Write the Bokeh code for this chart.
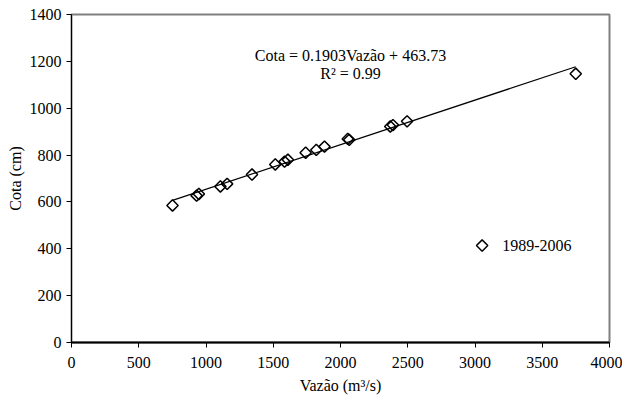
import numpy as np
from bokeh.plotting import figure
from bokeh.models import Label, FixedTicker, Range1d
from bokeh.embed import file_html
from bokeh.resources import INLINE

# data
vazao = [751, 930, 947, 1107, 1157, 1342, 1515, 1584, 1609, 1741, 1820, 1881,
         2054, 2065, 2370, 2390, 2495, 3749]
cota = [585, 627, 634, 666, 677, 717, 760, 772, 780, 810, 822, 836,
        869, 865, 922, 928, 944, 1147]
slope = 0.1903
intercept = 463.73
series_name = "1989-2006"
eq_line1 = "Cota = 0.1903Vazão + 463.73"
eq_line2 = "R² = 0.99"
x_ticks = [0, 500, 1000, 1500, 2000, 2500, 3000, 3500, 4000]
y_ticks = [0, 200, 400, 600, 800, 1000, 1200, 1400]

FONT = "Liberation Serif"
FS = "16px"

p = figure(width=622, height=397, output_backend="svg", toolbar_location=None,
           x_range=Range1d(0, 4000), y_range=Range1d(0, 1400),
           min_border_left=71, min_border_right=13, min_border_top=14,
           min_border_bottom=55)
p.background_fill_color = "white"
p.border_fill_color = "white"
p.outline_line_color = "#808080"
p.outline_line_width = 2
p.xgrid.visible = False
p.ygrid.visible = False

for ax, ticks in ((p.xaxis, x_ticks), (p.yaxis, y_ticks)):
    ax.ticker = FixedTicker(ticks=ticks)
    ax.minor_tick_line_color = None
    ax.major_tick_in = 0
    ax.major_tick_out = 5
    ax.axis_line_color = "black"
    ax.major_tick_line_color = "black"
    ax.major_label_text_font = FONT
    ax.major_label_text_font_size = FS
    ax.major_label_text_color = "black"
    ax.axis_label_text_font = FONT
    ax.axis_label_text_font_size = FS
    ax.axis_label_text_font_style = "normal"
    ax.axis_label_text_color = "black"

p.xaxis.axis_line_width = 2
p.xaxis.axis_label = "Vazão (m³/s)"
p.yaxis.axis_label = "Cota (cm)"
p.xaxis.major_label_standoff = 9
p.xaxis.axis_label_standoff = 6
p.yaxis.major_label_standoff = 5
p.yaxis.axis_label_standoff = 3

# trend line
xl = np.array([min(vazao), max(vazao)], dtype=float)
yl = slope * xl + intercept
p.line(xl, yl, line_color="black", line_width=1.2)

p.scatter(vazao, cota, marker="square", angle=np.pi / 4, size=8,
          fill_color="white", fill_alpha=0, line_color="black", line_width=1.5)

# legend (drawn by hand so that the marker keeps its diamond shape)
p.scatter([3053], [414], marker="square", angle=np.pi / 4, size=8,
          fill_color="white", fill_alpha=0, line_color="black", line_width=1.5)
p.add_layout(Label(x=3202, y=414, text=series_name, text_align="left",
                   text_baseline="middle", text_font=FONT,
                   text_font_size=FS, text_color="black"))

p.add_layout(Label(x=2074, y=1225, text=eq_line1, text_align="center",
                   text_baseline="middle", text_font=FONT,
                   text_font_size=FS, text_color="black"))
p.add_layout(Label(x=2074, y=1148, text=eq_line2, text_align="center",
                   text_baseline="middle", text_font=FONT,
                   text_font_size=FS, text_color="black"))

open("out.html", "w").write(file_html(p, INLINE))
